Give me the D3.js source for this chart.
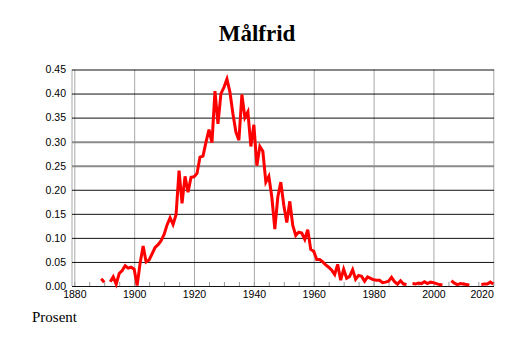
<!DOCTYPE html>
<html>
<head>
<meta charset="utf-8">
<script src="https://cdn.jsdelivr.net/npm/d3@7"></script>
<style>
  html, body { margin: 0; padding: 0; background: #fff; }
  svg { display: block; }
  .tick text { font-family: "Liberation Sans", Arial, sans-serif; font-size: 10.5px; fill: #000; }
</style>
</head>
<body>
<svg id="chart" width="514" height="343"></svg>
<script>
// Share of girls given the name (percent), by birth year. null = no data.
const years = d3.range(1889, 2021);
const shares = [
  0.015, 0.008, null, 0.009, 0.019, 0.004, 0.026, 0.032, 0.042, 0.037, 0.039, // 1889-1899
  0.035, 0.001, 0.048, 0.083, 0.050, 0.054, 0.067, 0.080, 0.086, 0.094,       // 1900-1909
  0.107, 0.127, 0.142, 0.128, 0.148, 0.240, 0.172, 0.228, 0.195, 0.226,       // 1910-1919
  0.227, 0.234, 0.268, 0.270, 0.299, 0.325, 0.298, 0.405, 0.337, 0.400,       // 1920-1929
  0.413, 0.430, 0.403, 0.358, 0.320, 0.303, 0.398, 0.350, 0.362, 0.290,       // 1930-1939
  0.335, 0.250, 0.290, 0.280, 0.216, 0.228, 0.185, 0.118, 0.185, 0.216,       // 1940-1949
  0.168, 0.132, 0.176, 0.126, 0.105, 0.112, 0.110, 0.097, 0.117, 0.076,       // 1950-1959
  0.072, 0.055, 0.055, 0.050, 0.044, 0.039, 0.033, 0.024, 0.045, 0.012,       // 1960-1969
  0.035, 0.016, 0.020, 0.034, 0.014, 0.022, 0.020, 0.010, 0.019, 0.016,       // 1970-1979
  0.013, 0.012, 0.012, 0.007, 0.008, 0.010, 0.018, 0.009, 0.004, 0.011,       // 1980-1989
  0.004, 0.003, null, 0.005, 0.004, 0.006, 0.005, 0.009, 0.005, 0.008,        // 1990-1999
  0.007, 0.005, 0.003, 0.002, null, null, 0.011, 0.006, 0.003, 0.005,         // 2000-2009
  0.004, 0.003, 0.002, null, null, null, 0.003, 0.004, 0.004, 0.008,          // 2010-2019
  0.004                                                                        // 2020
];
const yTicks = [0, 0.05, 0.10, 0.15, 0.20, 0.25, 0.30, 0.35, 0.40, 0.45];
const xMajorTicks = [1880, 1900, 1920, 1940, 1960, 1980, 2000, 2020];
const xMinorTicks = d3.range(1880, 2021, 5);
const titleText = "Målfrid";
const unitText = "Prosent";

const svg = d3.select("#chart");
const plotLeft = 72, plotRight = 494, plotTop = 69.5, plotBottom = 286;

const x = d3.scaleLinear().domain([1880, 2020]).range([74.3, 493.3]);
const y = d3.scaleLinear().domain([0, 0.45]).range([plotBottom, plotTop]);

// vertical grid lines at the labelled years
svg.append("g")
  .attr("transform", `translate(0,${plotBottom})`)
  .call(d3.axisBottom(x).tickValues(xMajorTicks).tickSize(-(plotBottom - plotTop)).tickFormat(""))
  .call(g => g.select(".domain").remove())
  .call(g => g.selectAll(".tick line").attr("stroke", "#a8a8a8"));

// left edge of the plot
svg.append("line")
  .attr("x1", plotLeft).attr("x2", plotLeft).attr("y1", plotTop).attr("y2", plotBottom)
  .attr("stroke", "#a8a8a8");

// horizontal grid lines and value labels
svg.append("g")
  .attr("transform", `translate(${plotLeft},0)`)
  .call(d3.axisLeft(y).tickValues(yTicks).tickSize(-(plotRight - plotLeft)).tickPadding(6).tickFormat(d3.format(".2f")))
  .call(g => g.select(".domain").remove())
  .call(g => g.selectAll(".tick line")
    .attr("stroke", d => (d === 0.25 || d === 0.30) ? "#8a8a8a" : "#111")
    .attr("stroke-width", d => (d === 0.25 || d === 0.30) ? 2 : 1));

// small ticks every five years along the base line
svg.append("g")
  .attr("transform", `translate(0,${plotBottom})`)
  .call(d3.axisBottom(x).tickValues(xMinorTicks).tickSize(-4).tickFormat(""))
  .call(g => g.select(".domain").remove())
  .call(g => g.selectAll(".tick line").attr("stroke", "#999"));

// year labels; the last one is kept inside the plot's right edge
const lastYear = xMajorTicks[xMajorTicks.length - 1];
svg.append("g")
  .attr("transform", `translate(0,${plotBottom})`)
  .call(d3.axisBottom(x).tickValues(xMajorTicks).tickSize(0).tickPadding(5).tickFormat(d3.format("d")))
  .call(g => g.select(".domain").remove())
  .call(g => g.selectAll(".tick text")
    .attr("text-anchor", d => d === lastYear ? "end" : "middle"));

// the series
const series = years.map((yr, i) => ({ year: yr, value: shares[i] }));
const line = d3.line()
  .defined(d => d.value !== null)
  .x(d => x(d.year))
  .y(d => y(d.value));

svg.append("path")
  .datum(series)
  .attr("fill", "none")
  .attr("stroke", "#ff0000")
  .attr("stroke-width", 3)
  .attr("stroke-linejoin", "miter")
  .attr("d", line);

// title and unit
svg.append("text")
  .attr("x", 257).attr("y", 40.5)
  .attr("text-anchor", "middle")
  .attr("font-family", "'Liberation Serif', 'Times New Roman', serif")
  .attr("font-weight", "bold")
  .attr("font-size", 23)
  .text(titleText);

svg.append("text")
  .attr("x", 32).attr("y", 322)
  .attr("font-family", "'Liberation Serif', 'Times New Roman', serif")
  .attr("font-size", 15)
  .text(unitText);
</script>
</body>
</html>
